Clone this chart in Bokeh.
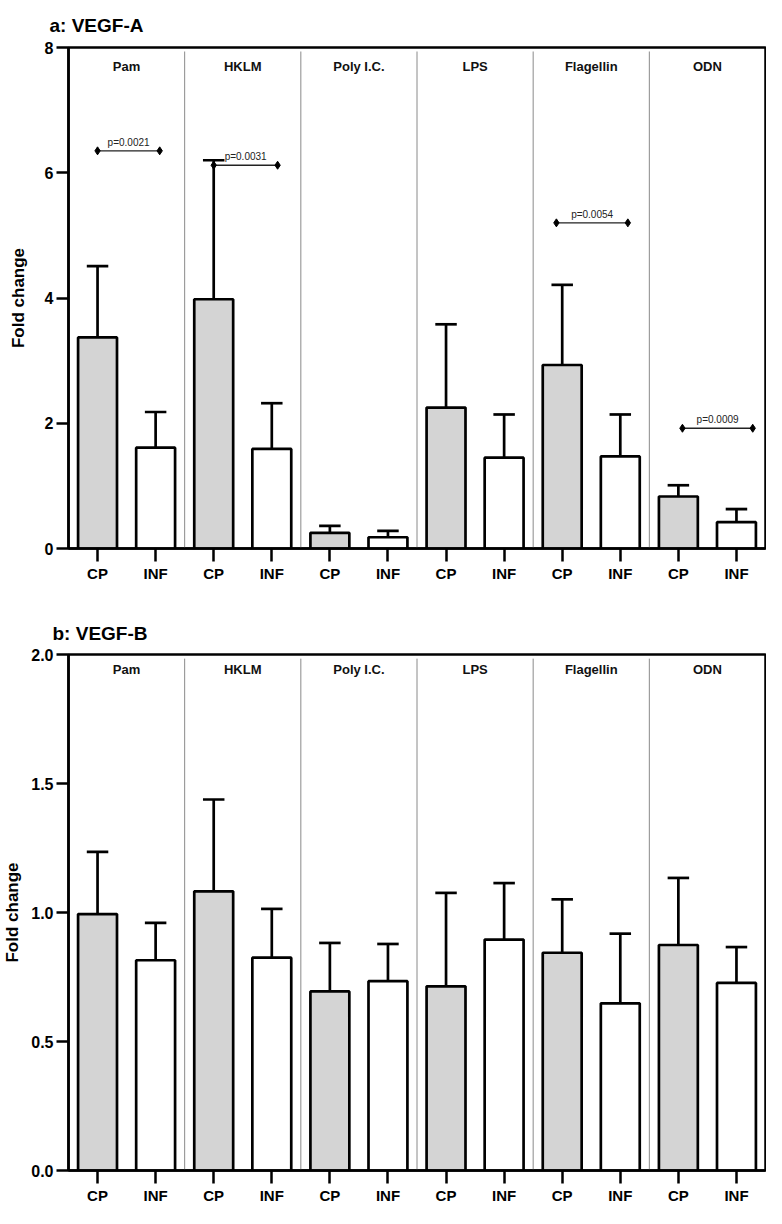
import numpy as np
from bokeh.plotting import figure
from bokeh.models import Range1d, FixedTicker, PrintfTickFormatter
from bokeh.layouts import column
from bokeh.embed import file_html
from bokeh.resources import INLINE
from bokeh.core.properties import value

# ---------------- data ----------------
groups = ["Pam", "HKLM", "Poly I.C.", "LPS", "Flagellin", "ODN"]
conditions = ["CP", "INF"]

# panel a: VEGF-A (mean fold change and upper error size)
vegfa_cp = [3.37, 3.98, 0.25, 2.25, 2.93, 0.83]
vegfa_cp_err = [1.14, 2.22, 0.11, 1.33, 1.28, 0.18]
vegfa_inf = [1.61, 1.59, 0.18, 1.45, 1.47, 0.42]
vegfa_inf_err = [0.57, 0.73, 0.10, 0.69, 0.67, 0.21]

# significance annotations for panel a
sig_groups = ["Pam", "HKLM", "Flagellin", "ODN"]
sig_labels = ["p=0.0021", "p=0.0031", "p=0.0054", "p=0.0009"]
sig_height = [6.35, 6.12, 5.20, 1.92]

# panel b: VEGF-B
vegfb_cp = [0.994, 1.082, 0.694, 0.714, 0.844, 0.874]
vegfb_cp_err = [0.241, 0.356, 0.188, 0.362, 0.207, 0.260]
vegfb_inf = [0.815, 0.825, 0.734, 0.895, 0.648, 0.727]
vegfb_inf_err = [0.145, 0.189, 0.144, 0.219, 0.270, 0.139]

yticks_a = [0, 2, 4, 6, 8]
yticks_b = [0.0, 0.5, 1.0, 1.5, 2.0]

FONT = "Liberation Sans"
CP_FILL = "#d4d4d4"
W = 766


def make_panel(title, cp, cp_err, inf, inf_err, ymax, yticks, yfmt,
               height, mb_left, mb_right, mb_top, mb_bottom,
               title_offset, title_standoff, ylab_standoff, label_frac):
    p = figure(width=W, height=height, output_backend="svg",
               toolbar_location=None, x_range=Range1d(0, 12),
               y_range=Range1d(0, ymax),
               min_border_left=mb_left, min_border_right=mb_right,
               min_border_top=mb_top, min_border_bottom=mb_bottom)
    p.title.text = title
    p.title.align = "left"
    p.title.offset = title_offset
    p.title.standoff = title_standoff
    p.title.text_font = FONT
    p.title.text_font_size = "19px"
    p.title.text_font_style = "bold"
    p.title.text_color = "black"

    p.xgrid.visible = False
    p.ygrid.visible = False
    p.outline_line_color = "black"
    p.outline_line_width = 2.5
    p.outline_line_alpha = 1.0
    p.background_fill_color = "white"
    p.border_fill_color = "white"

    n = len(groups)
    x_cp = [2 * i + 0.5 for i in range(n)]
    x_inf = [2 * i + 1.5 for i in range(n)]

    # group dividers
    xd = [2 * i for i in range(1, n)]
    p.segment(x0=xd, y0=[0] * len(xd), x1=xd, y1=[ymax * 0.992] * len(xd),
              line_color="#8a8a8a", line_width=1)

    # error bars (upper only)
    xs = x_cp + x_inf
    tops = list(cp) + list(inf)
    errs = list(cp_err) + list(inf_err)
    ups = [t + e for t, e in zip(tops, errs)]
    p.segment(x0=xs, y0=tops, x1=xs, y1=ups, line_color="black", line_width=2.7)
    cap = 0.185
    p.segment(x0=[x - cap for x in xs], y0=ups, x1=[x + cap for x in xs], y1=ups,
              line_color="black", line_width=2.7)

    # bars
    p.vbar(x=x_cp, top=cp, width=0.67, bottom=0, fill_color=CP_FILL,
           line_color="black", line_width=2.7)
    p.vbar(x=x_inf, top=inf, width=0.67, bottom=0, fill_color="white",
           line_color="black", line_width=2.7)

    # group labels
    p.text(x=[2 * i + 1 for i in range(n)], y=[ymax * label_frac] * n,
           text=groups, text_align="center", text_baseline="middle",
           text_font=value(FONT), text_font_style="bold",
           text_font_size="13px", text_color="#111111")

    # axes
    yax = p.yaxis[0]
    yax.ticker = FixedTicker(ticks=yticks)
    yax.formatter = PrintfTickFormatter(format=yfmt)
    yax.axis_label = "Fold change"
    yax.axis_label_text_font = FONT
    yax.axis_label_text_font_size = "17px"
    yax.axis_label_text_font_style = "bold"
    yax.axis_label_text_color = "black"
    yax.axis_label_standoff = ylab_standoff
    yax.major_label_text_font = FONT
    yax.major_label_text_font_size = "16px"
    yax.major_label_text_font_style = "bold"
    yax.major_label_text_color = "black"
    yax.major_label_standoff = 3
    yax.major_tick_in = 0
    yax.major_tick_out = 12
    yax.major_tick_line_width = 2.5
    yax.major_tick_line_color = "black"
    yax.minor_tick_line_color = None
    yax.axis_line_width = 2.5
    yax.axis_line_color = "black"

    xax = p.xaxis[0]
    ticks = sorted(xs)
    xax.ticker = FixedTicker(ticks=ticks)
    overrides = {}
    for i in range(n):
        overrides[2 * i + 0.5] = conditions[0]
        overrides[2 * i + 1.5] = conditions[1]
    xax.major_label_overrides = overrides
    xax.major_label_text_font = FONT
    xax.major_label_text_font_size = "15px"
    xax.major_label_text_font_style = "bold"
    xax.major_label_text_color = "black"
    xax.major_label_standoff = 3
    xax.major_tick_in = 0
    xax.major_tick_out = 13
    xax.major_tick_line_width = 2.5
    xax.major_tick_line_color = "black"
    xax.minor_tick_line_color = None
    xax.axis_line_width = 2.5
    xax.axis_line_color = "black"
    return p, x_cp, x_inf


pa, xa_cp, xa_inf = make_panel("a: VEGF-A", vegfa_cp, vegfa_cp_err, vegfa_inf,
                               vegfa_inf_err, 8, yticks_a, "%d",
                               height=584, mb_left=56, mb_right=1, mb_top=43,
                               mb_bottom=36, title_offset=-19, title_standoff=24,
                               ylab_standoff=14, label_frac=0.962)

# significance brackets on panel a
bracket_pad = {"Pam": (0.0, 0.07), "HKLM": (0.0, 0.1),
               "Flagellin": (-0.1, 0.13), "ODN": (0.07, 0.28)}
bx0, bx1 = [], []
for g in sig_groups:
    i = groups.index(g)
    l, r = bracket_pad[g]
    bx0.append(xa_cp[i] + l)
    bx1.append(xa_inf[i] + r)
pa.segment(x0=bx0, y0=sig_height, x1=bx1, y1=sig_height,
           line_color="#222222", line_width=1.4)
pa.scatter(x=bx0 + bx1, y=sig_height + sig_height, marker="diamond", size=8,
           color="black")
pa.text(x=[(a + b) / 2 for a, b in zip(bx0, bx1)], y=sig_height, text=sig_labels,
        text_align="center", text_baseline="bottom", y_offset=-3,
        text_font=value(FONT), text_font_size="10px", text_color="#222222")

pb, _, _ = make_panel("b: VEGF-B", vegfb_cp, vegfb_cp_err, vegfb_inf,
                      vegfb_inf_err, 2.0, yticks_b, "%.1f",
                      height=622, mb_left=66, mb_right=1, mb_top=70,
                      mb_bottom=32, title_offset=-16, title_standoff=22,
                      ylab_standoff=6, label_frac=0.97)

layout = column(pa, pb, spacing=0)
open("out.html", "w").write(file_html(layout, INLINE))
